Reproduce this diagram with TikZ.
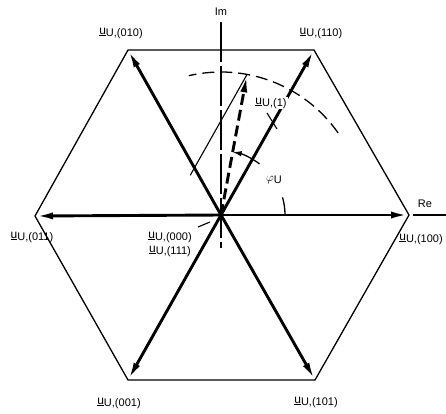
\documentclass[tikz,border=0pt]{standalone}
\usepackage{fontspec}
\setmainfont{Liberation Sans}
\usetikzlibrary{arrows.meta,calc}
\newcommand{\uvlab}[1]{{\fontsize{12}{12}\selectfont\underline{u}}\raisebox{-2pt}{\fontsize{11}{11}\selectfont U,(#1)}}
\begin{document}
\begin{tikzpicture}[x=1pt,y=1pt,
  vec/.style={line width=2.9pt,-{Latex[length=18pt,width=7pt]}},
  thinl/.style={line width=1.3pt},
  axisline/.style={line width=1.3pt,dash pattern=on 40pt off 4pt},
  arcdash/.style={line width=1.3pt,dash pattern=on 12pt off 6pt},
  dvec/.style={line width=2.9pt,dash pattern=on 11pt off 5pt,-{Latex[length=18pt,width=7pt]}},
  lab/.style={font=\fontsize{11}{12}\selectfont,inner sep=1pt}]
\useasboundingbox (0,0) rectangle (446,-413);
% points
\coordinate (O) at (221,-215);
\coordinate (V0) at (409,-215);
\coordinate (V60) at (314,-50);
\coordinate (V120) at (128,-50);
\coordinate (V180) at (35,-216);
\coordinate (V240) at (128,-380);
\coordinate (V300) at (315,-380);
\coordinate (ImTop) at (221,-22);
\coordinate (ImBot) at (221,-248);
\coordinate (ReA) at (413,-215);
\coordinate (ReB) at (446,-215);
\coordinate (P1) at ($(O)+(79.5:143)$);
\coordinate (Q) at ($(O)!0.2857!(V120)$);
\coordinate (Qx) at ($(P1)!1.08!(Q)$);
\coordinate (ArcS) at ($(O)+(35:143)$);
\coordinate (A0) at ($(O)+(0:64)$);
\coordinate (A53) at ($(O)+(53:64)$);
% hexagon
\draw[thinl] (V0)--(V60)--(V120)--(V180)--(V240)--(V300)--cycle;
% axes
\draw[axisline] (ImTop) -- (ImBot);
\draw[thinl] (ReA) -- (ReB);
% construction line
\draw[line width=1.1pt] (P1) -- (Qx);
% dashed circle arc
\draw[arcdash] (ArcS) arc[start angle=35,end angle=103,radius=143];
% vectors
\foreach \v in {V0,V60,V120,V180,V240,V300}
  \draw[vec] (O) -- (\v);
\draw[dvec] (O) -- (P1);
% angle arc
\draw[line width=1.3pt] (A0) arc[start angle=0,end angle=16,radius=64];
\draw[line width=1.3pt,-{Latex[length=9pt,width=5.5pt]}] (A53) arc[start angle=53,end angle=79.5,radius=64];
% labels
\node[lab] (Im) at (221,-12) {Im};
\node[lab] (Re) at (425,-204) {Re};
\node[lab] (L010) at (121,-33) {\uvlab{010}};
\node[lab] (L110) at (321,-33) {\uvlab{110}};
\node[lab] (L011) at (32,-237) {\uvlab{011}};
\node[lab] (L100) at (421,-239) {\uvlab{100}};
\node[lab] (L001) at (119,-403) {\uvlab{001}};
\node[lab] (L101) at (316,-402) {\uvlab{101}};
\node[lab] (L000) at (170,-237) {\uvlab{000}};
\node[lab] (L111) at (170,-251) {\uvlab{111}};
\node[lab,fill=white] (L1) at (271,-103) {\uvlab{1}};
\node[lab] (phi) at (274,-180) {{\fontsize{12}{12}\selectfont$\varphi$}\raisebox{-2pt}{U}};
% leaders
\coordinate (l0a) at (198,-227);
\coordinate (l0b) at (210,-222);
\draw[line width=1.1pt] (l0a) -- (l0b);
\coordinate (l1a) at (267,-113);
\coordinate (l1b) at (277,-129);
\draw[line width=1.1pt] (l1a) -- (l1b);
\end{tikzpicture}
\end{document}
